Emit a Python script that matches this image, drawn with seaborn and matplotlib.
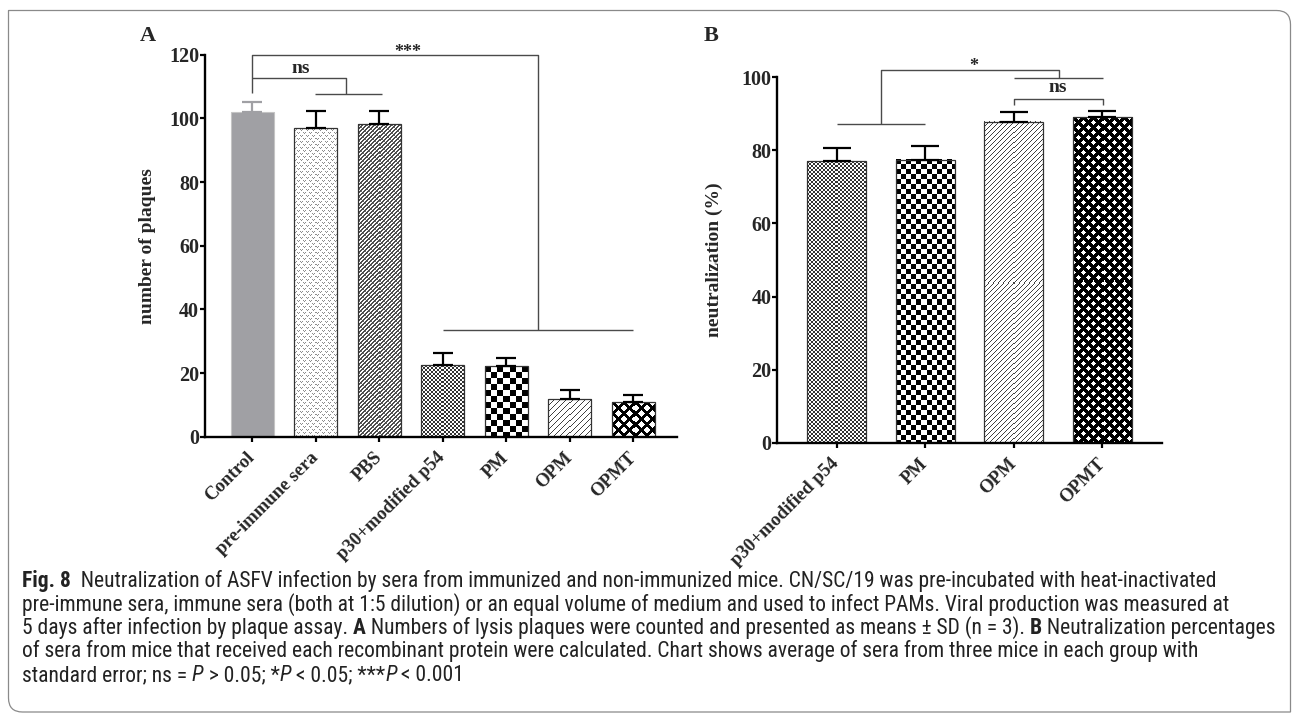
import matplotlib
matplotlib.use("Agg")
import numpy as np
import matplotlib.pyplot as plt
import seaborn as sns
from matplotlib import font_manager
from matplotlib.path import Path
from matplotlib.patches import PathPatch

# ---------------- data ----------------
groups_a = ["Control", "pre-immune sera", "PBS", "p30+modified p54", "PM", "OPM", "OPMT"]
plaques = [102.0, 97.0, 98.3, 22.6, 22.2, 11.8, 10.9]
plaques_sd = [3.0, 5.3, 4.1, 3.6, 2.4, 2.8, 2.1]

groups_b = ["p30+modified p54", "PM", "OPM", "OPMT"]
neutral = [77.1, 77.5, 87.9, 89.0]
neutral_se = [3.6, 3.7, 2.7, 1.9]

yticks_a = [0, 20, 40, 60, 80, 100, 120]
yticks_b = [0, 20, 40, 60, 80, 100]

caption_lines = [
    [("Fig. 8", "bold", "normal"), ("  Neutralization of ASFV infection by sera from immunized and non-immunized mice. CN/SC/19 was pre-incubated with heat-inactivated", "normal", "normal")],
    [("pre-immune sera, immune sera (both at 1:5 dilution) or an equal volume of medium and used to infect PAMs. Viral production was measured at", "normal", "normal")],
    [("5 days after infection by plaque assay. ", "normal", "normal"), ("A", "bold", "normal"),
     (" Numbers of lysis plaques were counted and presented as means \u00b1 SD (n = 3). ", "normal", "normal"),
     ("B", "bold", "normal"), (" Neutralization percentages", "normal", "normal")],
    [("of sera from mice that received each recombinant protein were calculated. Chart shows average of sera from three mice in each group with", "normal", "normal")],
    [("standard error; ns = ", "normal", "normal"), ("P", "normal", "italic"), (" > 0.05; *", "normal", "normal"),
     ("P", "normal", "italic"), (" < 0.05; ***", "normal", "normal"), ("P", "normal", "italic"), (" < 0.001", "normal", "normal")],
]

# ---------------- style ----------------
W, H = 1293, 715
sns.set_style("ticks")
plt.rcParams["font.family"] = ["Liberation Serif", "DejaVu Serif"]
plt.rcParams["font.weight"] = "bold"

fig = plt.figure(figsize=(W / 100, H / 100), dpi=100)


def px_axes(l, t, r, b):
    return fig.add_axes([l / W, 1 - b / H, (r - l) / W, (b - t) / H])


ax_a = px_axes(205, 54.7, 677, 436.7)
ax_b = px_axes(777.3, 77.3, 1162.3, 442.7)

sns.barplot(x=groups_a, y=plaques, hue=groups_a, palette=["#a0a0a4"] * 7, legend=False,
            width=0.68, errorbar=None, ax=ax_a, saturation=1)
sns.barplot(x=groups_b, y=neutral, hue=groups_b, palette=["#ffffff"] * 4, legend=False,
            width=0.667, errorbar=None, ax=ax_b, saturation=1)

ax_a.set_xlim(-0.745, 6.69)
ax_a.set_ylim(0, 120)
ax_a.set_yticks(yticks_a)
ax_b.set_xlim(-0.67, 3.68)
ax_b.set_ylim(0, 100)
ax_b.set_yticks(yticks_b)


# ---------------- textures ----------------
def texture(kind, w, h, cell):
    yy, xx = np.mgrid[0:h, 0:w]
    arr = np.ones((h, w))
    if kind == "fine":
        arr[((xx // cell + yy // cell) % 2) == 0] = 0.2
    elif kind == "checker":
        arr[((xx // cell + yy // cell) % 2) == 0] = 0.0
    elif kind == "diamond":
        P = cell
        r = P * 0.29
        u = (xx + yy + P // 2) % P
        v = (xx - yy + P // 2) % P
        du = np.minimum(u, P - u)
        dv = np.minimum(v, P - v)
        arr[:] = 0.0
        arr[(du < r) & (dv < r)] = 1.0
    elif kind == "diag":
        arr[((xx + yy) % cell) == 0] = 0.25
    elif kind == "pbs":
        arr[((xx + yy) % cell) < 2] = 0.3
        arr[(((xx - yy) % 8) == 0) & (((xx + yy) % cell) == 2)] = 0.45
    elif kind == "dots":
        tile = np.array([
            [1, 1, 1, 1, 1, 1],
            [0, 1, 0, 1, 1, 1],
            [1, 0, 1, 1, 1, 1],
            [1, 1, 1, 1, 1, 1],
            [1, 1, 1, 0, 1, 0],
            [1, 1, 1, 1, 0, 1],
        ], dtype=float)
        tile[tile == 0] = 0.55
        arr = np.tile(tile, (h // 6 + 1, w // 6 + 1))[:h, :w]
    return arr


def apply_textures(ax, kinds):
    for patch, spec in zip(ax.patches, kinds):
        if spec is None:
            patch.set_edgecolor("#c4c4c4")
            patch.set_linewidth(0.8)
            continue
        kind, cell = spec
        bb = patch.get_window_extent()
        w, h = max(int(round(bb.width)), 1), max(int(round(bb.height)), 1)
        arr = texture(kind, w, h, cell)
        x0 = patch.get_x()
        x1 = x0 + patch.get_width()
        y1 = patch.get_y() + patch.get_height()
        ax.imshow(arr, cmap="gray", vmin=0, vmax=1, extent=(x0, x1, patch.get_y(), y1),
                  aspect="auto", interpolation="nearest", zorder=0.8)
        patch.set_facecolor("none")
        patch.set_edgecolor("#333333")
        patch.set_linewidth(0.9)
        patch.set_zorder(1)


apply_textures(ax_a, [None, ("dots", 6), ("pbs", 4), ("fine", 2), ("checker", 6), ("diag", 6), ("diamond", 11)])
apply_textures(ax_b, [("fine", 2), ("checker", 5), ("diag", 5), ("diamond", 10)])

ax_a.set_xlim(-0.745, 6.69)
ax_a.set_ylim(0, 120)
ax_b.set_xlim(-0.67, 3.68)
ax_b.set_ylim(0, 100)

# ---------------- error bars (upper only) ----------------
xa = np.arange(len(groups_a))
err_cols = ["#a0a0a4"] + ["black"] * (len(groups_a) - 1)
for xi, yi, ei, c in zip(xa, plaques, plaques_sd, err_cols):
    ax_a.errorbar(xi, yi, yerr=[[0], [ei]], fmt="none", ecolor=c, elinewidth=1.6,
                  capsize=7.2, capthick=1.6, zorder=3)
xb = np.arange(len(groups_b))
ax_b.errorbar(xb, neutral, yerr=[np.zeros(len(neutral)), neutral_se], fmt="none", ecolor="black",
              elinewidth=1.6, capsize=10.4, capthick=1.6, zorder=3)

# ---------------- axes styling ----------------
for ax in (ax_a, ax_b):
    sns.despine(ax=ax)
    for s in ("left", "bottom"):
        ax.spines[s].set_linewidth(1.7)
        ax.spines[s].set_color("black")
    ax.tick_params(axis="both", width=1.6, length=3.8, color="black")
    ax.tick_params(axis="y", pad=0.5, labelsize=14.5)
    ax.tick_params(axis="x", pad=9.5, labelsize=13.5)
    for lab in ax.get_yticklabels():
        lab.set_fontweight("bold")
    for lab in ax.get_xticklabels():
        lab.set_rotation(45)
        lab.set_ha("right")
        lab.set_va("center")
        lab.set_rotation_mode("anchor")
        lab.set_fontweight("bold")
    ax.set_xlabel("")

ax_a.set_ylabel("number of plaques", fontsize=14, fontweight="bold")
ax_a.yaxis.set_label_coords(-0.104, 0.5)
ax_b.set_ylabel("neutralization (%)", fontsize=14, fontweight="bold")
ax_b.yaxis.set_label_coords(-0.141, 0.5)

# ---------------- significance brackets ----------------
bk = dict(color="#4a4a4a", lw=1.0, clip_on=False, solid_capstyle="butt", zorder=4)
# panel A: ***
ax_a.plot([0, 0, 4.5, 4.5], [108, 119.9, 119.9, 33.6], **bk)
ax_a.plot([3, 6], [33.6, 33.6], **bk)
ax_a.text(2.45, 119.4, "***", ha="center", va="baseline", fontsize=13, fontweight="bold", clip_on=False)
# panel A: ns
ax_a.plot([0, 1.47, 1.47], [112.7, 112.7, 107.7], **bk)
ax_a.plot([0.98, 2.05], [107.7, 107.7], **bk)
ax_a.text(0.76, 113.0, "ns", ha="center", va="bottom", fontsize=14, fontweight="bold", clip_on=False)
# panel B: *
ax_b.plot([0, 1], [87.3, 87.3], **bk)
ax_b.plot([0.5, 0.5, 2.51, 2.51], [87.3, 102.1, 102.1, 99.9], **bk)
ax_b.plot([2, 3.01], [99.9, 99.9], **bk)
ax_b.text(1.55, 101.8, "*", ha="center", va="baseline", fontsize=13, fontweight="bold", clip_on=False)
# panel B: ns
ax_b.plot([2, 2, 3.01, 3.01], [92.4, 94.1, 94.1, 92.4], **bk)
ax_b.text(2.5, 94.8, "ns", ha="center", va="bottom", fontsize=14, fontweight="bold", clip_on=False)

# panel letters
fig.text(148 / W, 1 - 36 / H, "A", fontsize=16, fontweight="bold", ha="center", va="center")
fig.text(711 / W, 1 - 36 / H, "B", fontsize=16, fontweight="bold", ha="center", va="center")

# ---------------- border ----------------
L, T, R, B, rad = 8.5, 10.5, 1290.5, 712.0, 14
verts = [(L, T), (R - rad, T), (R, T), (R, T + rad), (R, B), (L + rad, B), (L, B), (L, B - rad), (L, T)]
codes = [Path.MOVETO, Path.LINETO, Path.CURVE3, Path.CURVE3, Path.LINETO, Path.LINETO,
         Path.CURVE3, Path.CURVE3, Path.LINETO]
verts_f = [(x / W, 1 - y / H) for x, y in verts]
fig.add_artist(PathPatch(Path(verts_f, codes), transform=fig.transFigure, fill=False,
                         edgecolor="#8a8a8a", lw=0.9))

# ---------------- caption ----------------
available = {f.name for f in font_manager.fontManager.ttflist}
cap_font = "DejaVu Sans"
for cand in ["Liberation Sans Narrow", "Roboto Condensed", "Open Sans", "Noto Sans", "Liberation Sans"]:
    if cand in available:
        cap_font = cand
        break

renderer = fig.canvas.get_renderer()


def line_width(segs, size):
    total = 0
    for txt, wt, st in segs:
        t = fig.text(0, 0, txt, fontsize=size, fontweight=wt, fontstyle=st, family=cap_font)
        total += t.get_window_extent(renderer).width
        t.remove()
    return total


base = 10.0
cap_size = base * 1250 / line_width(caption_lines[2], base)

y_lines = [587, 610.5, 634, 657.5, 681]
for segs, yb in zip(caption_lines, y_lines):
    x = 22
    for txt, wt, st in segs:
        t = fig.text(x / W, 1 - yb / H, txt, fontsize=cap_size, fontweight=wt, fontstyle=st,
                     family=cap_font, va="baseline", ha="left", color="#222222")
        x += t.get_window_extent(renderer).width

fig.savefig("out.png", dpi=100)
